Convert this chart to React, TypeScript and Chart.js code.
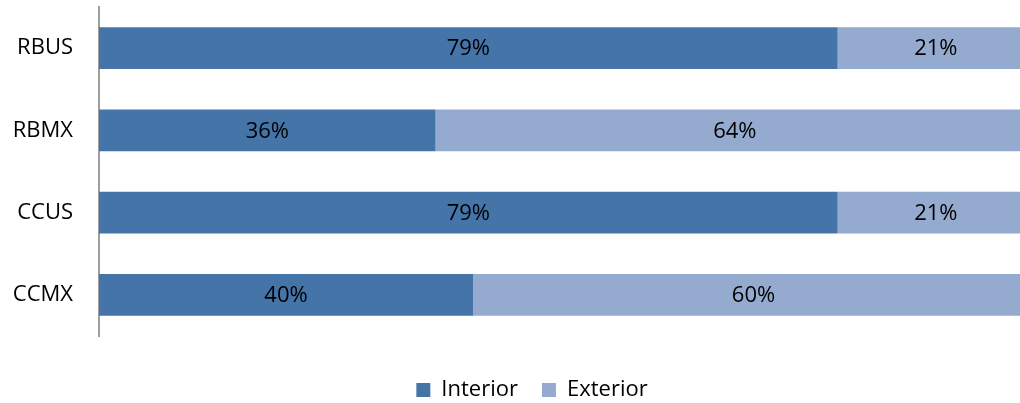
import React, { useEffect, useRef } from "react";
import { Chart, registerables } from "chart.js";

Chart.register(...registerables);

const categories = ["RBUS", "RBMX", "CCUS", "CCMX"];
const interiorValues = [79, 36, 79, 40];
const exteriorValues = [21, 64, 21, 60];
const seriesNames = ["Interior", "Exterior"];
const seriesColors = ["#4574A8", "#95AACF"];

const FONT = "'Open Sans', 'Liberation Sans', sans-serif";

const labelPlugin = {
  id: "segmentLabels",
  afterDatasetsDraw(chart: any) {
    const ctx = chart.ctx;
    ctx.save();
    ctx.font = `22px ${FONT}`;
    ctx.fillStyle = "#000000";
    ctx.textAlign = "center";
    ctx.textBaseline = "middle";
    chart.data.datasets.forEach((ds: any, di: number) => {
      const meta = chart.getDatasetMeta(di);
      meta.data.forEach((bar: any, i: number) => {
        const cx = (bar.x + bar.base) / 2;
        ctx.fillText(`${ds.data[i]}%`, cx, bar.y + 1);
      });
    });
    ctx.restore();
  },
};

const legendShiftPlugin = {
  id: "legendShift",
  afterLayout(chart: any) {
    const lg = chart.legend;
    if (lg) {
      lg.left += 15;
      lg.right += 15;
    }
  },
};

export default function App() {
  const ref = useRef<HTMLCanvasElement | null>(null);
  useEffect(() => {
    if (!ref.current) return;
    const chart = new Chart(ref.current, {
      type: "bar",
      data: {
        labels: categories,
        datasets: [
          {
            label: seriesNames[0],
            data: interiorValues,
            backgroundColor: seriesColors[0],
            barPercentage: 0.51,
            categoryPercentage: 1,
          },
          {
            label: seriesNames[1],
            data: exteriorValues,
            backgroundColor: seriesColors[1],
            barPercentage: 0.51,
            categoryPercentage: 1,
          },
        ],
      },
      options: {
        indexAxis: "y",
        animation: false,
        responsive: false,
        maintainAspectRatio: false,
        layout: { padding: { top: 7, bottom: -8, left: 0, right: 0 } },
        plugins: {
          tooltip: { enabled: false },
          legend: {
            position: "bottom",
            labels: {
              boxWidth: 14,
              boxHeight: 14,
              padding: 24,
              color: "#000000",
              font: { family: FONT, size: 22 },
            },
          },
        },
        scales: {
          x: {
            stacked: true,
            display: true,
            min: 0,
            max: 100,
            grid: { display: false, drawTicks: false },
            border: { display: false },
            ticks: { display: false },
            afterFit(scale: any) {
              scale.height = 19;
              scale.paddingLeft = 0;
              scale.paddingRight = 0;
            },
          },
          y: {
            stacked: true,
            grid: { display: false, drawTicks: false },
            border: { display: true, color: "#9E9E9E", width: 2 },
            ticks: {
              color: "#000000",
              font: { family: FONT, size: 22 },
              padding: 26,
            },
            afterFit(scale: any) {
              scale.width = 99;
              scale.paddingTop = 0;
              scale.paddingBottom = 0;
            },
          },
        },
      },
      plugins: [labelPlugin, legendShiftPlugin],
    });
    return () => chart.destroy();
  }, []);
  return (
    <div
      style={{
        position: "fixed",
        left: 0,
        top: 0,
        width: 1020,
        height: 403,
        overflow: "hidden",
        background: "#ffffff",
      }}
    >
      <canvas ref={ref} width={1034} height={403} style={{ display: "block" }} />
    </div>
  );
}
